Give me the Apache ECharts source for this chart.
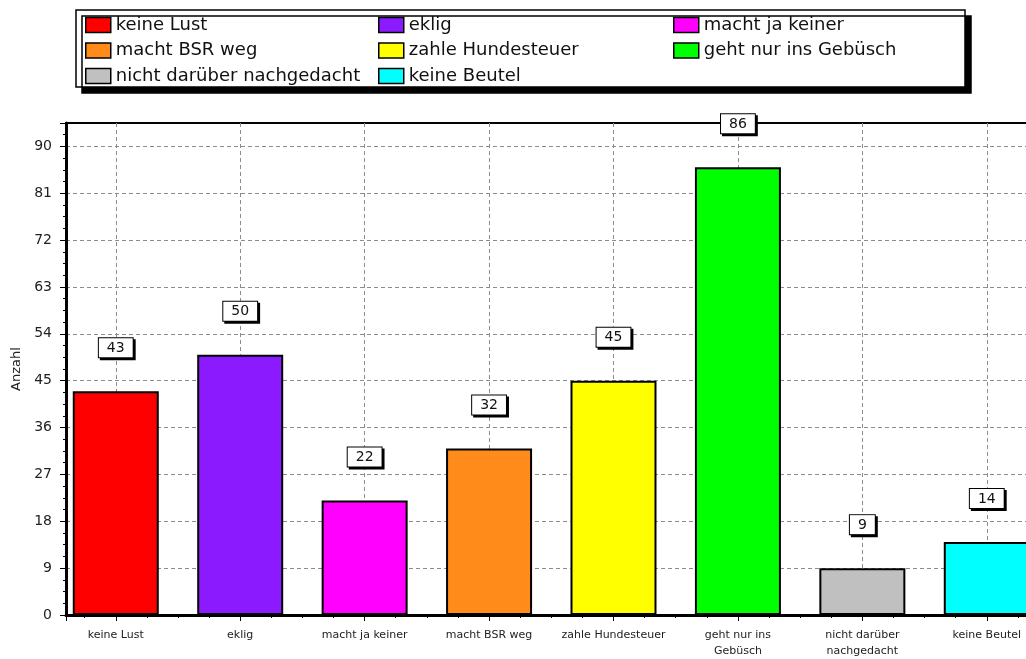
<!DOCTYPE html>
<html><head><meta charset="utf-8">
<script src="https://cdn.jsdelivr.net/npm/echarts@6/dist/echarts.min.js"></script>
<style>html,body{margin:0;padding:0;background:#fff}#c{width:1026px;height:659px}</style>
</head><body><div id="c"></div>
<script>
const categories = ['keine Lust','eklig','macht ja keiner','macht BSR weg','zahle Hundesteuer','geht nur ins Gebüsch','nicht darüber nachgedacht','keine Beutel'];
const axisLabels = ['keine Lust','eklig','macht ja keiner','macht BSR weg','zahle Hundesteuer','geht nur ins\nGebüsch','nicht darüber\nnachgedacht','keine Beutel'];
const values = [43, 50, 22, 32, 45, 86, 9, 14];
const colors = ['#FF0000','#8C1AFF','#FF00FF','#FF8C1A','#FFFF00','#00FF00','#C0C0C0','#00FFFF'];
const legendCols = [
  ['keine Lust','macht BSR weg','nicht darüber nachgedacht'],
  ['eklig','zahle Hundesteuer','keine Beutel'],
  ['macht ja keiner','geht nur ins Gebüsch']
];
const yInterval = 9;

const chart = echarts.init(document.getElementById('c'), null, {renderer:'canvas'});
const font = 'DejaVu Sans';
const series = categories.map((name, i) => ({
  name: name,
  type: 'bar',
  data: [[i, values[i]]],
  barWidth: 86,
  barGap: '-100%',
  itemStyle: {color: colors[i], borderColor: '#000', borderWidth: 2},
  label: {
    show: true, position: 'top', distance: 34,
    color: '#111', fontFamily: font, fontSize: 14,
    backgroundColor: '#fff', borderColor: '#000', borderWidth: 1,
    padding: [3, 8, 2, 8],
    shadowColor: '#000', shadowOffsetX: 2, shadowOffsetY: 2, shadowBlur: 0
  }
}));
const legendX = [85, 378, 673];
const legends = legendCols.map((col, k) => ({
  data: col.map(n => ({name: n, icon: 'rect'})),
  orient: 'vertical', left: legendX[k], top: 16, padding: 0,
  itemWidth: 25, itemHeight: 15, itemGap: 7.5, itemTextGap: 7,
  itemStyle: {borderColor: '#000', borderWidth: 1.5},
  textStyle: {fontFamily: font, fontSize: 18, color: '#111'},
  selectedMode: false
}));
chart.setOption({
  animation: false,
  backgroundColor: '#fff',
  graphic: [{
    type: 'rect', z: -1, shape: {x: 76, y: 10, width: 889, height: 77},
    style: {fill: '#fff', stroke: '#000', lineWidth: 1.5,
      shadowColor: '#000', shadowOffsetX: 6, shadowOffsetY: 6, shadowBlur: 0}
  }],
  legend: legends,
  grid: {left: 66, top: 123, width: 983, height: 492, containLabel: false, outerBoundsMode: 'none',
    show: true, borderColor: '#000', borderWidth: 2, backgroundColor: 'transparent'},
  xAxis: {
    type: 'value', min: -0.4, max: 7.5, splitNumber: 8,
    axisLine: {show: true, onZero: false, lineStyle: {color: '#000', width: 3}},
    axisTick: {show: true, length: 6, lineStyle: {color: '#000'}},
    minorTick: {show: true, splitNumber: 4, length: 3, lineStyle: {color: '#000'}},
    splitLine: {show: true, showMinLine: false, showMaxLine: false, lineStyle: {color: '#8c8c8c', type: [4, 3], width: 1}},
    axisLabel: {
      margin: 12, fontFamily: font, fontSize: 11, color: '#222', lineHeight: 16,
      formatter: v => (Number.isInteger(v) && v >= 0 && v < axisLabels.length) ? axisLabels[v] : ''
    }
  },
  yAxis: {
    type: 'value', min: 0, max: 94.5, interval: yInterval,
    name: 'Anzahl', nameLocation: 'middle', nameGap: 42, nameRotate: 90,
    nameTextStyle: {fontFamily: font, fontSize: 13, color: '#222'},
    axisLine: {show: true, onZero: false, lineStyle: {color: '#000', width: 3}},
    axisTick: {show: true, length: 6, lineStyle: {color: '#000'}},
    minorTick: {show: true, splitNumber: 4, length: 3, lineStyle: {color: '#000'}},
    splitLine: {show: true, showMinLine: false, showMaxLine: false, lineStyle: {color: '#8c8c8c', type: [4, 3], width: 1}},
    axisLabel: {margin: 14, fontFamily: font, fontSize: 14, color: '#222', showMaxLabel: false}
  },
  series: series
});
</script></body></html>
